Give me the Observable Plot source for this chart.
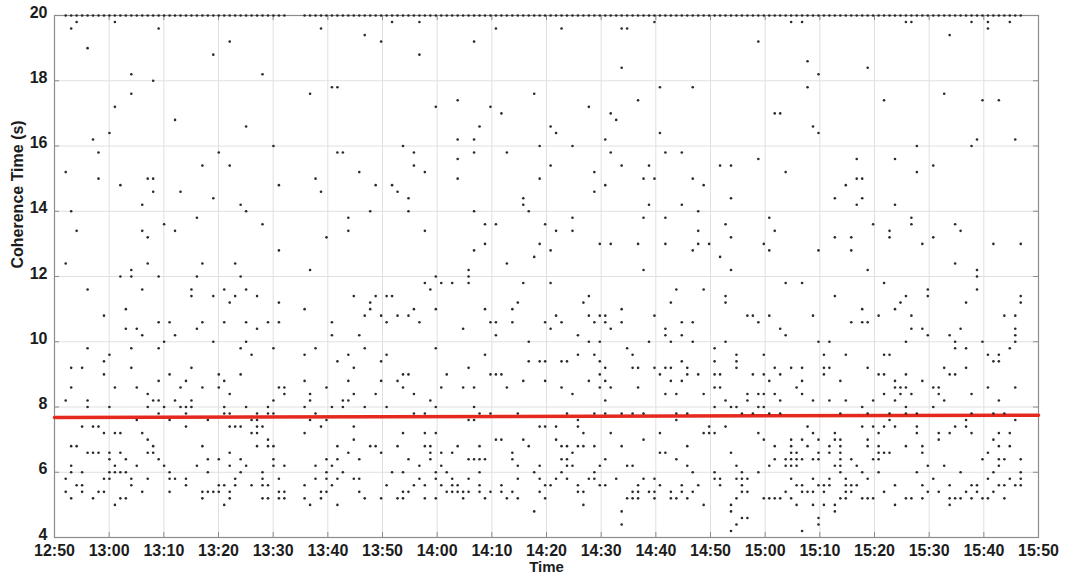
<!DOCTYPE html>
<html>
<head>
<meta charset="utf-8">
<script src="https://cdn.jsdelivr.net/npm/d3@7"></script>
<script src="https://cdn.jsdelivr.net/npm/@observablehq/plot@0.6"></script>
<style>
  html, body { margin: 0; padding: 0; background: #ffffff; }
  #chart { width: 1066px; height: 580px; }
</style>
</head>
<body>
<div id="chart"></div>
<script>
// ---------------- data ----------------
const startLabel = "12:50";
const xTicks = ["12:50","13:00","13:10","13:20","13:30","13:40","13:50","14:00","14:10","14:20","14:30","14:40","14:50","15:00","15:10","15:20","15:30","15:40","15:50"];
const yTicks = [4, 6, 8, 10, 12, 14, 16, 18, 20];

// one sample per minute; sampling restarts after a gap (seconds past the minute)
const gapAfterColumn = 42;
const sampleOffsetSec = [3, 45];

// saturated samples (value 20) – column ranges, inclusive
const topValue = 20;
const topColumnRanges = [[2, 42], [45, 176]];

// coherence values and the minute columns (minutes after 12:50) where they occur
const levelValues = [
  19.8, 19.6, 19.4, 19.2, 19.0, 18.8, 18.6, 18.4, 18.2, 18.0,
  17.8, 17.6, 17.4, 17.2, 17.0, 16.8, 16.6, 16.4, 16.2, 16.0,
  15.8, 15.6, 15.4, 15.2, 15.0, 14.8, 14.6, 14.4, 14.2, 14.0,
  13.8, 13.6, 13.4, 13.2, 13.0, 12.8, 12.6, 12.4, 12.2, 12.0,
  11.8, 11.6, 11.4, 11.2, 11.0, 10.8, 10.6, 10.4, 10.2, 10.0,
  9.8, 9.6, 9.4, 9.2, 9.0, 8.8, 8.6, 8.4, 8.2, 8.0,
  7.8, 7.6, 7.4, 7.2, 7.0, 6.8, 6.6, 6.4, 6.2, 6.0,
  5.8, 5.6, 5.4, 5.2, 5.0, 4.8, 4.6, 4.4, 4.2
];
const levelColumns = [
  "4 11 61 66 109 134 136 155 156 167 170 174",
  "3 19 48 80 92 103 104 170",
  "56 163",
  "32 59 76 128",
  "6",
  "29 66",
  "137",
  "103 148",
  "14 38 139",
  "18",
  "50 51 110 116 137",
  "14 46 87 162",
  "73 106 151 169 172",
  "11 69 79 97",
  "81 101 131 132",
  "22 102",
  "35 77 90 138",
  "10 91 110 139",
  "7 73 76 100 168 175",
  "40 63 88 94 157 167",
  "8 30 51 52 65 76 82 101 111 114",
  "73 128 146 153",
  "27 32 65 90 103 108 121 123 160",
  "2 55 67 98 133 157",
  "8 17 18 47 73 88 107 109 116 146 147",
  "12 41 58 61 100 118 144",
  "18 23 48 62 98",
  "29 64 85 123 142 147",
  "16 34 85 108 114 146 153",
  "3 35 57 64 76 86 117",
  "26 53 94 107 111 130 156",
  "20 38 78 80 89 122 149 156 164",
  "4 16 22 53 67 91 94 117 131 152 165",
  "17 49 123 142 145 152 160",
  "78 88 99 101 106 111 117 119 129 158 171 176",
  "41 76 90 116 130 139 145",
  "87 121",
  "2 17 27 33 82 164",
  "14 46 75 107 123 148 168",
  "12 14 19 26 34 69 75 168",
  "67 70 72 75 85 90 133 136 151",
  "6 16 25 31 35 68 113 118 159 168",
  "25 29 33 37 54 58 60 61 97 122 142 155 159 176",
  "32 41 57 84 96 112 122 154 166 176",
  "13 45 57 65 69 78 83 103 147 153",
  "9 56 59 62 64 91 97 99 100 109 126 127 130 138 150 156 173 175",
  "19 21 27 31 35 39 41 50 60 66 79 80 83 89 92 98 100 103 114 116 128 145 147 148",
  "13 15 26 37 74 90 101 111 132 156 158 165 175",
  "16 22 50 55 80 95 111 114 133 159 163 175",
  "20 29 35 86 97 99 108 112 116 122 139 141 155 164 169 175",
  "6 14 19 34 40 47 56 69 104 120 164 166 174",
  "10 36 45 53 60 78 95 98 105 124 129 140 144 151 152 170 172",
  "9 51 59 86 88 89 92 93 99 114 120 124 171 172",
  "3 5 14 25 54 75 100 105 106 109 111 112 115 124 131 134 136 140 141 148 162 166",
  "9 21 30 34 63 64 71 79 80 81 99 110 115 117 120 121 127 129 132 140 150 151 155 163 164",
  "19 24 31 45 53 59 62 85 89 97 100 112 114 130 136 143 153 158",
  "3 11 15 23 27 30 41 42 49 63 70 74 76 82 92 99 101 106 120 121 135 153 154 155 160 161 170 175",
  "17 32 42 46 54 58 65 94 111 113 118 126 128 129 131 136 151 154 156 161 167",
  "2 6 18 19 22 25 40 46 52 53 68 100 122 126 132 138 141 144 149 153 162 172",
  "6 10 17 20 23 24 25 31 35 39 45 50 52 56 60 69 76 120 123 124 128 129 147 155 160",
  "19 24 31 32 37 39 40 47 65 67 77 79 84 93 98 100 103 105 107 113 115 125 127 130 132 143 148 152 155 157 167 171 173",
  "15 21 28 36 37 46 49 75 76 95 113 152 166 175",
  "5 7 8 24 32 33 34 37 38 48 54 88 89 91 95 119 122 137 147 149 151 153 157 164 166",
  "9 11 12 16 36 37 45 63 67 69 96 101 110 118 119 120 128 138 142 150 157 161 163 167 172 174",
  "17 39 54 80 81 85 91 107 129 134 136 139 142 143 148 161 171",
  "3 4 18 27 37 39 40 51 57 58 62 67 68 73 77 86 92 93 95 96 98 103 115 131 134 137 141 143 148 150 155 158 172 174",
  "6 7 8 10 12 17 18 32 53 59 68 70 72 83 94 110 111 123 134 135 139 141 143 150 151 152 158 170",
  "10 13 19 28 30 34 40 49 51 55 64 68 75 76 77 78 83 92 93 100 113 131 133 134 135 136 138 139 143 145 149 150 169 172 173 176",
  "3 11 15 20 26 32 35 40 42 47 50 66 70 84 88 93 94 99 104 105 115 124 130 133 134 135 142 143 146 159 162 172",
  "3 5 10 11 12 13 21 28 34 38 49 52 61 63 69 71 77 87 92 98 116 120 125 128 143 147 150 157 165 171 176",
  "2 9 10 14 17 21 22 24 33 38 41 47 49 51 54 55 66 69 72 75 84 88 91 93 97 98 102 107 109 120 121 124 125 126 134 138 141 144 148 160 170 174 176",
  "4 5 14 24 30 31 33 36 38 39 45 50 60 65 67 70 72 73 77 81 89 90 95 99 100 106 110 114 117 121 125 135 136 139 140 141 144 145 146 153 158 163 167 168 172 173 175 176",
  "2 5 8 9 16 21 27 28 29 30 32 41 42 48 49 55 63 64 71 72 73 74 75 77 79 81 83 88 95 96 105 106 108 109 112 114 116 125 126 133 136 137 138 140 144 145 151 159 161 166 168 171",
  "3 7 12 13 27 32 38 39 41 42 45 48 56 59 62 63 67 69 74 78 82 84 89 104 105 106 109 112 113 115 124 129 130 131 132 134 143 144 147 148 149 155 156 158 163 164 165 167 169 170 173",
  "11 31 46 51 96 118 123 135 138 140 142 153 163",
  "87 103 123 142",
  "125 126 139",
  "103 124 139",
  "123 136"
];

// red trend line (value at start and end of the window)
const trendTimes = ["12:50", "15:50"];
const trendValues = [7.68, 7.75];

// ---------------- build rows for the library ----------------
function hm(label, sec = 0) {
  const [h, m] = label.split(":").map(Number);
  return new Date(Date.UTC(2000, 0, 1, h, m, sec));
}
const start = hm(startLabel);
function columnTime(c) {
  const off = c <= gapAfterColumn ? sampleOffsetSec[0] : sampleOffsetSec[1];
  return new Date(+start + c * 60000 + off * 1000);
}
const points = [];
topColumnRanges.forEach(([a, b]) => {
  for (let c = a; c <= b; c++) points.push({t: columnTime(c), v: topValue});
});
levelValues.forEach((v, i) => {
  levelColumns[i].trim().split(/\s+/).forEach(s => points.push({t: columnTime(+s), v}));
});
const xTickDates = xTicks.map(s => hm(s));
const trend = trendTimes.map((s, i) => ({t: hm(s), v: trendValues[i]}));

// ---------------- chart ----------------
const W = 1066, H = 580;
const M = {top: 15, right: 28, bottom: 43, left: 54};
const plotW = W - M.left - M.right, plotH = H - M.top - M.bottom;
const tickLen = 5;

const chart = Plot.plot({
  width: W,
  height: H,
  marginTop: M.top,
  marginRight: M.right,
  marginBottom: M.bottom,
  marginLeft: M.left,
  style: {
    fontFamily: "'Liberation Sans', Arial, Helvetica, sans-serif",
    fontSize: "16px",
    fontWeight: "bold",
    color: "#1c1c1c",
    background: "#ffffff",
    overflow: "visible"
  },
  x: {type: "utc", domain: [xTickDates[0], xTickDates[xTickDates.length - 1]]},
  y: {domain: [yTicks[0], yTicks[yTicks.length - 1]]},
  marks: [
    Plot.gridX(xTickDates, {stroke: "#e0e0e0", strokeOpacity: 1}),
    Plot.gridY(yTicks, {stroke: "#e0e0e0", strokeOpacity: 1}),
    Plot.ruleX(xTickDates, {stroke: "#8c8c8c", insetTop: plotH - tickLen}),
    Plot.ruleX(xTickDates, {stroke: "#8c8c8c", insetBottom: plotH - tickLen}),
    Plot.ruleY(yTicks, {stroke: "#8c8c8c", insetRight: plotW - tickLen}),
    Plot.ruleY(yTicks, {stroke: "#8c8c8c", insetLeft: plotW - tickLen}),
    Plot.frame({stroke: "#8c8c8c", strokeWidth: 1.2}),
    Plot.line(trend, {x: "t", y: "v", stroke: "#e5291f", strokeWidth: 3.5}),
    Plot.dot(points, {x: "t", y: "v", r: 1.3, fill: "#2a2a2a", stroke: null}),
    Plot.axisX(xTickDates, {tickSize: 0, tickPadding: 7, tickFormat: d3.utcFormat("%H:%M"), label: null, fontSize: 16}),
    Plot.axisY(yTicks, {tickSize: 0, tickPadding: 7, dy: -3, label: null, fontSize: 16}),
    Plot.text(["Time"], {frameAnchor: "bottom", dy: 34, fontSize: 15, fontWeight: "bold"}),
    Plot.text(["Coherence Time (s)"], {frameAnchor: "left", dx: -37, dy: -8, rotate: -90, fontSize: 16, fontWeight: "bold"})
  ]
});
document.getElementById("chart").appendChild(chart);
</script>
</body>
</html>
